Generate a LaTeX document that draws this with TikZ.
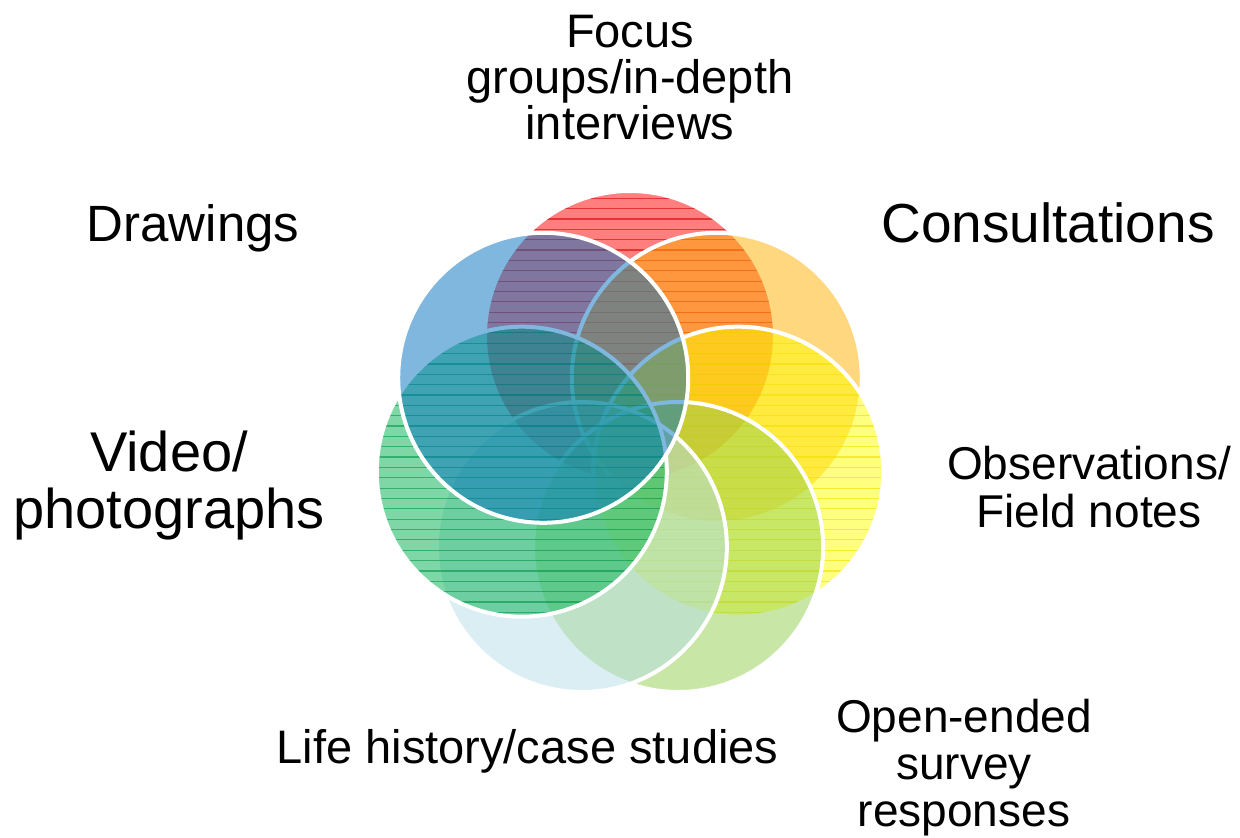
\documentclass[tikz,border=0pt]{standalone}
\usepackage{fontspec}
\setmainfont{Liberation Sans}
\usetikzlibrary{calc}

\definecolor{cRed}{RGB}{255,0,0}
\definecolor{cOrange}{RGB}{255,176,0}
\definecolor{cYellow}{RGB}{255,255,0}
\definecolor{cLime}{RGB}{146,208,80}
\definecolor{cSky}{RGB}{183,222,232}
\definecolor{cGreen}{RGB}{0,176,80}
\definecolor{cBlue}{RGB}{0,112,192}
\definecolor{hRed}{RGB}{215,0,0}
\definecolor{hYellow}{RGB}{240,222,0}
\definecolor{hGreen}{RGB}{0,150,70}

% one translucent disc of the flower: name, colour, position index
\newcommand\drawpetal[3]{%
  \coordinate (#1) at ($(hub)+({-90+51.4286*#3}:111)$);
  \fill[petal=#2] (#1) circle[radius=145pt];
}
% horizontal hatching inside a disc: name, line colour
\newcommand\hatchpetal[2]{%
  \begin{scope}
    \clip (#1) circle[radius=145pt];
    \foreach \i in {-2,...,50}
      \draw[hatchline=#2] (350,{198.3+10.35*\i}) -- (920,{198.3+10.35*\i});
  \end{scope}
}
\newcommand\rimpetal[1]{\draw[rim] (#1) circle[radius=145pt];}

\begin{document}
\begin{tikzpicture}[x=1pt,y=-1pt,
  petal/.style={fill=#1, fill opacity=0.5},
  hatchline/.style={draw=#1, line width=1.2pt, opacity=0.6},
  rim/.style={draw=white, line width=4pt},
  tagtext/.style={font=\fontsize{46}{46}\selectfont, align=center, inner sep=0pt, text=black},
]
\useasboundingbox (0,0) rectangle (1240,838);
\coordinate (hub) at (630,447);

% petals, bottom layer first, going clockwise from the top
\drawpetal{red}{cRed}{0}
\hatchpetal{red}{hRed}
\rimpetal{red}

\drawpetal{orange}{cOrange}{1}
\rimpetal{orange}

\drawpetal{yellow}{cYellow}{2}
\hatchpetal{yellow}{hYellow}
\rimpetal{yellow}

\drawpetal{lime}{cLime}{3}
\rimpetal{lime}

\drawpetal{sky}{cSky}{4}
\rimpetal{sky}

\drawpetal{green}{cGreen}{5}
\hatchpetal{green}{hGreen}
\rimpetal{green}

\drawpetal{blue}{cBlue}{6}
\rimpetal{blue}

% labels
\node[tagtext, font=\fontsize{47}{46}\selectfont] (focus) at (630,77.5) {Focus\\groups/in-depth\\interviews};
\node[tagtext, font=\fontsize{51}{51}\selectfont, anchor=base] (drawings) at (193,241) {Drawings};
\node[tagtext, font=\fontsize{55}{55}\selectfont, anchor=base] (consult) at (1048,242) {Consultations};
\node[tagtext, font=\fontsize{46}{48}\selectfont] (observ) at (1089,487) {Observations/\\Field notes};
\node[tagtext, font=\fontsize{46}{47}\selectfont] (openended) at (964,768) {Open-ended\\survey\\responses};
\node[tagtext, font=\fontsize{47}{47}\selectfont, anchor=base] (life) at (527.5,763) {Life history/case studies};
\node[tagtext, font=\fontsize{56}{57}\selectfont] (video) at (169,486) {Video/\\photographs};
\end{tikzpicture}
\end{document}
